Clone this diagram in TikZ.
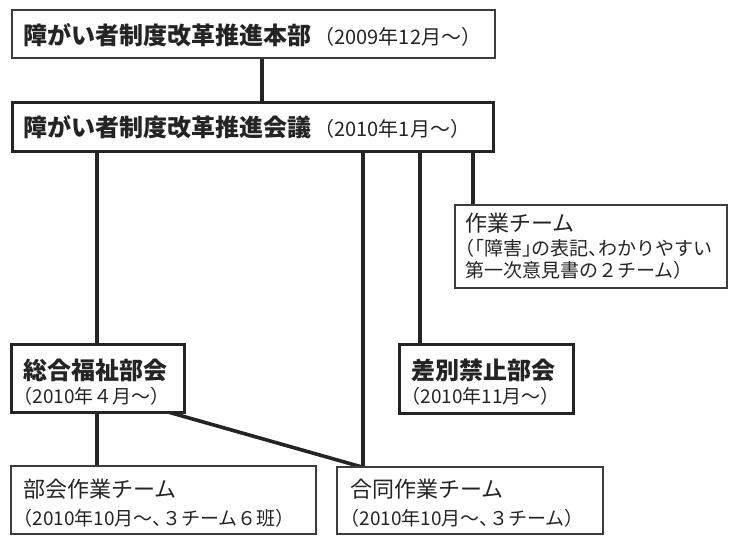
\documentclass[tikz,border=0pt]{standalone}
\usepackage{fontspec}
\newfontfamily\jp{Noto Sans CJK JP}
\newfontfamily\jph[RawFeature=+halt]{Noto Sans CJK JP}
\definecolor{ink}{HTML}{242424}
\definecolor{thinln}{HTML}{3c3c3c}
\tikzset{
  thinbox/.style={draw=thinln, line width=1.4pt, fill=white, rectangle, inner sep=0pt},
  thickbox/.style={draw=ink, line width=3pt, fill=white, rectangle, inner sep=0pt},
  conn/.style={draw=ink, line width=3.6pt},
  bigt/.style={anchor=base west, inner sep=0pt, text=ink, font=\jp\bfseries\fontsize{24}{28}\selectfont},
  regt/.style={anchor=base west, inner sep=0pt, text=ink, font=\jp\fontsize{22}{26}\selectfont},
  subt/.style={anchor=base west, inner sep=0pt, text=ink, font=\jph\fontsize{19}{22}\selectfont},
}
\newcommand{\smallpar}[1]{{\mdseries\jp\fontsize{20}{22}\selectfont #1}}
\begin{document}
\begin{tikzpicture}[x=1pt,y=-1pt]
\useasboundingbox[fill=white] (0,0) rectangle (740,544);
% x positions of connectors
\coordinate (xa) at (262,0);
\coordinate (xb) at (97,0);
\coordinate (xc) at (363,0);
\coordinate (xd) at (420,0);
\coordinate (xe) at (473,0);
\coordinate (dgA) at (168,412);
\coordinate (dgB) at (362,467);

% connectors (drawn first, boxes on top)
\draw[conn] (xa |- 0,58) -- (xa |- 0,102);
\draw[conn] (xb |- 0,150) -- (xb |- 0,344);
\draw[conn] (xc |- 0,150) -- (xc |- 0,467);
\draw[conn] (xd |- 0,150) -- (xd |- 0,344);
\draw[conn] (xe |- 0,150) -- (xe |- 0,205);
\draw[conn] (xb |- 0,412) -- (xb |- 0,466);
\draw[conn] (dgA) -- (dgB);

% boxes
\node[thinbox, minimum width=483pt, minimum height=48pt] (b1) at (253.5,34) {};
\node[thickbox, minimum width=481pt, minimum height=49pt] (b2) at (252.5,126.5) {};
\node[thinbox, minimum width=272pt, minimum height=83pt] (wk) at (591,246.5) {};
\node[thickbox, minimum width=173pt, minimum height=68pt] (sg) at (97.5,378) {};
\node[thickbox, minimum width=174pt, minimum height=69pt] (sb) at (486,378.5) {};
\node[thinbox, minimum width=305pt, minimum height=68pt] (bk) at (163.5,500) {};
\node[thinbox, minimum width=266pt, minimum height=67pt] (gd) at (470,500.5) {};

% texts
\node[bigt] (t1) at (23,44) {障がい者制度改革推進本部\smallpar{\,（2009年12月～）}};
\node[bigt] (t2) at (23,136) {障がい者制度改革推進会議\smallpar{\,（2010年1月～）}};

\node[regt] (w1) at (465,231) {作業チーム};
\node[subt] (w2) at (465,255) {（「障害」の表記、わかりやすい};
\node[subt] (w3) at (465,277) {第一次意見書の２チーム）};

\node[bigt] (s1) at (23,379) {総合福祉部会};
\node[subt] (s2) at (23,403) {（2010年４月～）};

\node[bigt] (r1) at (411,379) {差別禁止部会};
\node[subt] (r2) at (411,403) {（2010年11月～）};

\node[regt] (k1) at (23,497) {部会作業チーム};
\node[subt] (k2) at (23,525) {（2010年10月～、３チーム６班）};

\node[regt] (g1) at (350,497) {合同作業チーム};
\node[subt] (g2) at (350,525) {（2010年10月～、３チーム）};
\end{tikzpicture}
\end{document}
